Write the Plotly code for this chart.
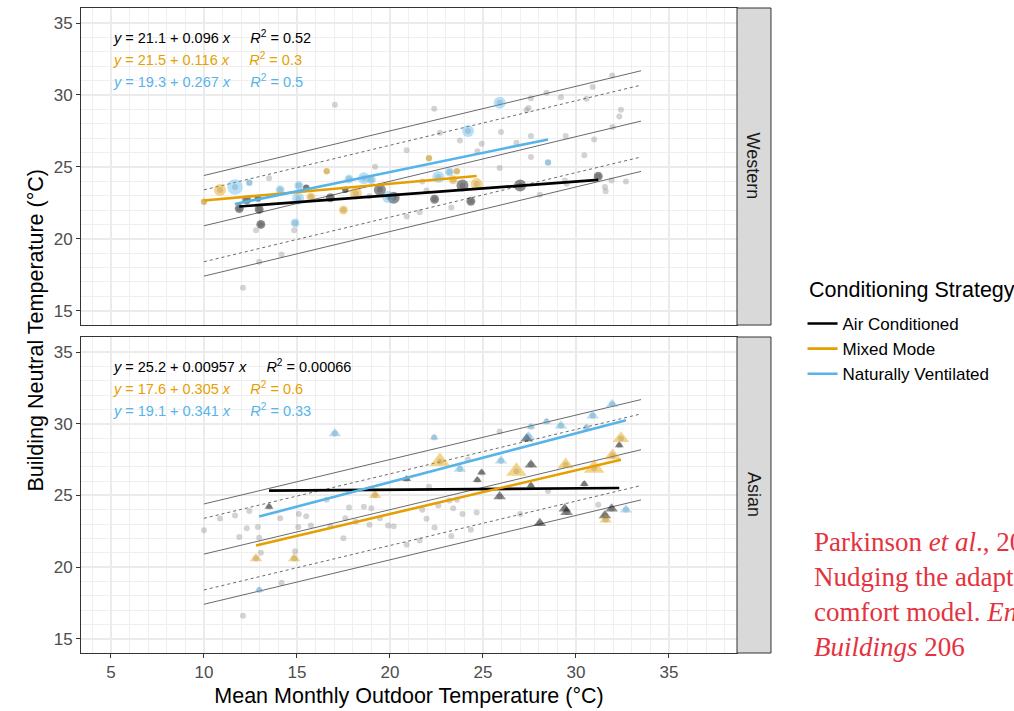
import plotly.graph_objects as go
from plotly.subplots import make_subplots

# ---------------------------------------------------------------- data
strategies = ["Air Conditioned", "Mixed Mode", "Naturally Ventilated"]
regions = ["Western", "Asian"]

# Western buildings (x = mean monthly outdoor temp, y = neutral temp, w = sample weight class)
west_ac_x = [11.9, 12.3, 12.97, 12.9, 13.06, 15.5, 16.8, 17.6, 19.46, 20.2, 22.4, 23.9, 24.35, 27.0, 31.2]
west_ac_y = [22.1, 22.7, 22.04, 22.8, 21.0, 23.55, 22.85, 23.4, 23.4, 22.85, 22.75, 23.7, 22.6, 23.7, 24.35]
west_ac_w = [2, 2, 2, 1, 2, 1, 2, 1, 3, 3, 2, 3, 2, 3, 2]

west_mm_x = [10.0, 10.86, 15.75, 16.6, 17.5, 18.17, 22.1, 23.6, 23.4, 24.66]
west_mm_y = [22.57, 23.39, 22.9, 24.7, 22.0, 23.15, 25.6, 24.7, 24.1, 23.8]
west_mm_w = [1, 3, 2, 1, 2, 3, 1, 1, 2, 3]

west_nv_x = [11.67, 12.44, 14.1, 14.9, 15.1, 15.07, 17.8, 18.6, 19.0, 19.9, 22.6, 23.2, 24.2, 25.9, 28.5]
west_nv_y = [23.6, 23.9, 23.4, 21.1, 23.7, 22.8, 24.15, 24.2, 24.1, 22.9, 24.3, 24.65, 27.5, 29.46, 25.3]
west_nv_w = [4, 1, 2, 2, 2, 3, 2, 3, 2, 3, 3, 2, 3, 3, 1]

# Asian buildings
asia_ac_x = [13.5, 20.9, 24.93, 24.7, 25.9, 27.58, 27.58, 27.35, 30.45, 32.33, 29.4, 29.5, 28.06, 31.92, 31.56]
asia_ac_y = [24.2, 26.15, 26.6, 26.08, 24.92, 27.14, 25.68, 28.95, 25.8, 28.5, 24.06, 23.83, 23.06, 24.06, 23.6]
asia_ac_w = [1, 1, 1, 1, 2, 2, 1, 2, 1, 1, 2, 2, 2, 2, 2]

asia_mm_x = [12.8, 14.85, 19.2, 22.69, 26.8, 29.45, 30.98, 31.97, 32.42, 31.6]
asia_mm_y = [20.6, 20.6, 25.0, 27.37, 26.68, 27.14, 26.9, 27.77, 28.97, 23.3]
asia_mm_w = [2, 2, 2, 4, 4, 3, 4, 3, 3, 2]

asia_nv_x = [12.97, 17.04, 22.38, 23.76, 25.97, 27.45, 27.58, 28.42, 29.19, 30.57, 30.9, 31.95, 32.69]
asia_nv_y = [18.4, 29.32, 29.04, 26.84, 27.42, 29.1, 29.78, 30.15, 29.85, 29.74, 30.55, 31.36, 23.99]
asia_nv_w = [1, 2, 1, 2, 2, 2, 1, 1, 2, 1, 2, 2, 2]

# Buildings from other regions (background only)
other_x = [20.9, 21.6, 23.3, 21.74, 21.97, 12.1, 14.17, 18.9]
other_y = [21.55, 21.85, 22.17, 23.99, 23.36, 16.6, 18.9, 22.95]

# Fitted models per region (order follows `strategies`)
west_intercept = [21.1, 21.5, 19.3]
west_slope = [0.096, 0.116, 0.267]
west_r2 = [0.52, 0.3, 0.5]
asia_intercept = [25.2, 17.6, 19.1]
asia_slope = [0.00957, 0.305, 0.341]
asia_r2 = [0.00066, 0.6, 0.33]

# Adaptive comfort model: neutral = intercept + slope * t_out, with acceptability bands
comfort_intercept = 17.8
comfort_slope = 0.31
comfort_t_range = [10.0, 33.5]
band_90 = 2.5
band_80 = 3.5

x_ticks = [5, 10, 15, 20, 25, 30, 35]
y_ticks = [15, 20, 25, 30, 35]

# ---------------------------------------------------------------- styling
FONT = "Liberation Sans, Arial, sans-serif"
line_colors = ["#000000", "#E69F00", "#56B4E9"]
point_colors = ["rgba(0,0,0,0.62)", "rgba(230,159,0,0.62)", "rgba(86,180,233,0.6)"]
circle_size = {1: 6.5, 2: 9, 3: 12, 4: 15.5}
triangle_size = {1: 8, 2: 11, 3: 14.5, 4: 18}

west_groups = [(west_ac_x, west_ac_y, west_ac_w), (west_mm_x, west_mm_y, west_mm_w),
               (west_nv_x, west_nv_y, west_nv_w)]
asia_groups = [(asia_ac_x, asia_ac_y, asia_ac_w), (asia_mm_x, asia_mm_y, asia_mm_w),
               (asia_nv_x, asia_nv_y, asia_nv_w)]

all_x = sum([g[0] for g in west_groups + asia_groups], []) + other_x
all_y = sum([g[1] for g in west_groups + asia_groups], []) + other_y

fig = make_subplots(rows=2, cols=1, shared_xaxes=True, vertical_spacing=0.02)

panels = [
    (1, west_groups, west_intercept, west_slope, west_r2, "circle", circle_size),
    (2, asia_groups, asia_intercept, asia_slope, asia_r2, "triangle-up", triangle_size),
]

for row, groups, icpt, slp, r2, symbol, size_map in panels:
    # every building in the database as a grey background layer
    fig.add_trace(go.Scatter(
        x=all_x, y=all_y, mode="markers", showlegend=False, hoverinfo="skip",
        marker=dict(size=6, color="rgba(150,150,150,0.42)", line=dict(width=0)),
    ), row=row, col=1)

    # comfort model centre line and acceptability bands
    t0, t1 = comfort_t_range
    for offset, dash in [(band_80, "solid"), (band_90, "3px,3px"), (0.0, "solid"),
                         (-band_90, "3px,3px"), (-band_80, "solid")]:
        fig.add_trace(go.Scatter(
            x=[t0, t1],
            y=[comfort_intercept + comfort_slope * t0 + offset,
               comfort_intercept + comfort_slope * t1 + offset],
            mode="lines", showlegend=False, hoverinfo="skip",
            line=dict(color="#444444", width=0.8, dash=dash),
        ), row=row, col=1)

    # buildings of this region, coloured by conditioning strategy
    for k, (gx, gy, gw) in enumerate(groups):
        fig.add_trace(go.Scatter(
            x=gx, y=gy, mode="markers", showlegend=False,
            marker=dict(symbol=symbol, size=[size_map[w] for w in gw],
                        color=point_colors[k], line=dict(width=0)),
        ), row=row, col=1)

    # linear fits over the observed range of each group
    for k, (gx, gy, gw) in enumerate(groups):
        xa, xb = min(gx), max(gx)
        fig.add_trace(go.Scatter(
            x=[xa, xb], y=[icpt[k] + slp[k] * xa, icpt[k] + slp[k] * xb],
            mode="lines", name=strategies[k], legendgroup=strategies[k],
            showlegend=(row == 1),
            line=dict(color=line_colors[k], width=2.6),
        ), row=row, col=1)

    # regression equations
    ydom = "y domain" if row == 1 else "y2 domain"
    xdom = "x domain" if row == 1 else "x2 domain"
    for k in range(3):
        txt = (f"<i>y</i> = {icpt[k]} + {slp[k]} <i>x</i>&nbsp;&nbsp;&nbsp;&nbsp;&nbsp;"
               f"<i>R</i><sup>2</sup> = {r2[k]}")
        fig.add_annotation(
            text=txt, xref=xdom, yref=ydom, x=0.046, y=[0.908, 0.839, 0.770][k],
            xanchor="left", yanchor="middle", showarrow=False,
            font=dict(family=FONT, size=14.5, color=line_colors[k]),
        )

# ---------------------------------------------------------------- axes
grid = dict(showgrid=True, gridcolor="#EBEBEB", gridwidth=1.6, zeroline=False,
            showline=True, mirror=True, linecolor="#333333", linewidth=1)
minor = dict(dtick=1, tick0=0, showgrid=True, gridcolor="#EFEFEF", gridwidth=0.8, ticks="")

xcommon = dict(range=[3.39, 38.66], tickvals=x_ticks, minor=minor, **grid)
fig.update_xaxes(**xcommon)
fig.update_xaxes(showticklabels=False, ticks="", row=1, col=1)
fig.update_xaxes(ticks="outside", ticklen=4, tickcolor="#333333", tickwidth=1,
                 tickfont=dict(family=FONT, size=17, color="#4D4D4D"),
                 title=dict(text="Mean Monthly Outdoor Temperature (°C)",
                            font=dict(family=FONT, size=21.5, color="#000000"), standoff=6),
                 row=2, col=1)
fig.update_yaxes(range=[14.0, 36.05], tickvals=y_ticks, minor=minor,
                 ticks="outside", ticklen=4, tickcolor="#333333", tickwidth=1,
                 tickfont=dict(family=FONT, size=17, color="#4D4D4D"), **grid)

fig.update_layout(
    width=1014, height=711,
    margin=dict(l=81, r=277, t=8, b=58, autoexpand=False),
    paper_bgcolor="white", plot_bgcolor="white",
    font=dict(family=FONT, color="#000000"),
    yaxis=dict(domain=[0.5085, 1.0]),
    yaxis2=dict(domain=[0.0, 0.4899]),
    legend=dict(
        font=dict(family=FONT, size=17), x=1.0999, y=0.538, xanchor="left", yanchor="top",
        tracegroupgap=0, itemwidth=30, bgcolor="rgba(0,0,0,0)", traceorder="grouped",
    ),
)

# legend heading
fig.add_annotation(text="Conditioning Strategy", xref="paper", yref="paper",
                   x=1.1067, y=0.5628, xanchor="left", yanchor="middle", showarrow=False,
                   font=dict(family=FONT, size=21.5, color="#000000"))

# facet strips on the right of each panel
strip_x0, strip_x1 = 1.0, 1.0518
for (y0, y1), label in zip([(0.5085, 1.0), (0.0, 0.4899)], regions):
    fig.add_shape(type="rect", xref="paper", yref="paper", x0=strip_x0, x1=strip_x1,
                  y0=y0, y1=y1, fillcolor="#D9D9D9", line=dict(color="#333333", width=1))
    fig.add_annotation(text=label, xref="paper", yref="paper", x=(strip_x0 + strip_x1) / 2,
                       y=(y0 + y1) / 2, xanchor="center", yanchor="middle", textangle=90,
                       showarrow=False, font=dict(family=FONT, size=18, color="#1A1A1A"))

# shared y-axis title
fig.add_annotation(text="Building Neutral Temperature (°C)", xref="paper", yref="paper",
                   x=-0.0701, y=0.5, xanchor="center", yanchor="middle", textangle=-90,
                   showarrow=False, font=dict(family=FONT, size=21.5, color="#000000"))

# source reference
fig.add_annotation(
    text=("Parkinson <i>et al</i>., 2020.<br>Nudging the adaptive thermal<br>"
          "comfort model. <i>Energy and</i><br><i>Buildings</i> 206"),
    xref="paper", yref="paper", x=1.1143, y=0.09, xanchor="left", yanchor="middle",
    align="left", showarrow=False,
    font=dict(family="Liberation Serif, Times New Roman, serif", size=27, color="#E5323E"),
)

fig.write_html("out.html")
